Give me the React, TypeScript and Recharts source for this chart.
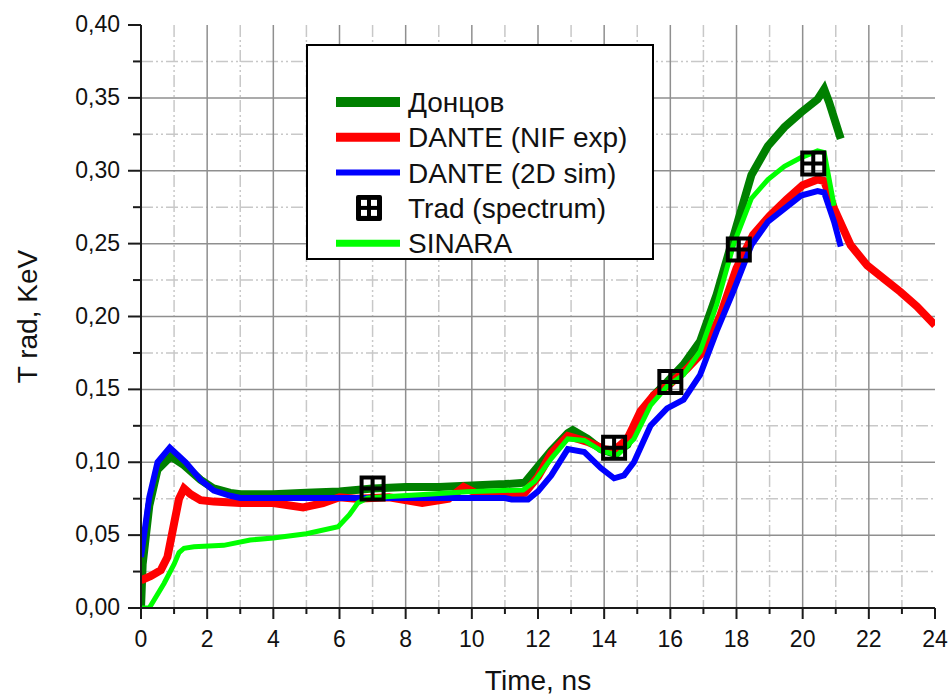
import React from 'react';
import {
  ComposedChart,
  Line,
  XAxis,
  YAxis,
  CartesianGrid,
  Legend,
  Label
} from 'recharts';

// time axis (ns) and temperature axis (keV) ticks
const xTicks = [0, 1, 2, 3, 4, 5, 6, 7, 8, 9, 10, 11, 12, 13, 14, 15, 16, 17, 18, 19, 20, 21, 22, 23, 24];
const yTicks = [0, 0.025, 0.05, 0.075, 0.1, 0.125, 0.15, 0.175, 0.2, 0.225, 0.25, 0.275, 0.3, 0.325, 0.35, 0.375, 0.4];
const majorX = xTicks.filter((t) => t % 2 === 0 && t > 0 && t < 24);
const minorX = xTicks.filter((t) => t % 2 === 1);
const majorY = yTicks.filter((v) => Math.round(v * 1000) % 50 === 0 && v > 0 && v < 0.4);
const minorY = yTicks.filter((v) => Math.round(v * 1000) % 50 !== 0);

// Донцов
const dontsT = [0, 0.05, 0.25, 0.5, 0.9, 1.3, 1.8, 2.2, 2.7, 3, 4, 5, 6, 6.5, 7, 8, 9, 10, 11, 11.6, 12, 12.4, 12.9, 13.05, 13.5, 13.9, 14.3, 14.7, 15.1, 15.5, 15.9, 16.4, 16.9, 17.4, 18, 18.45, 18.95, 19.45, 19.95, 20.45, 20.65, 20.8, 21.15];
const dontsV = [0, 0.03, 0.07, 0.095, 0.104, 0.098, 0.088, 0.082, 0.079, 0.078, 0.078, 0.079, 0.08, 0.081, 0.082, 0.083, 0.083, 0.084, 0.085, 0.086, 0.097, 0.108, 0.12, 0.122, 0.116, 0.109, 0.106, 0.112, 0.13, 0.146, 0.155, 0.167, 0.183, 0.215, 0.262, 0.297, 0.317, 0.33, 0.34, 0.349, 0.356, 0.347, 0.322];

// DANTE (NIF exp)
const nifT = [0, 0.3, 0.6, 0.8, 1.0, 1.15, 1.3, 1.5, 1.8, 2.2, 3, 4, 4.9, 5.5, 6, 6.5, 7.5, 8.5, 9.3, 9.75, 10.2, 11, 11.6, 12, 12.4, 12.9, 13.5, 14, 14.3, 14.7, 15.1, 15.5, 16, 16.5, 17, 17.5, 18, 18.5, 19, 19.5, 20, 20.45, 20.65, 20.95, 21.45, 21.95, 22.45, 22.95, 23.45, 24];
const nifV = [0.019, 0.022, 0.026, 0.035, 0.058, 0.075, 0.082, 0.078, 0.074, 0.073, 0.072, 0.072, 0.069, 0.072, 0.076, 0.075, 0.076, 0.072, 0.075, 0.083, 0.078, 0.078, 0.079, 0.09, 0.106, 0.118, 0.114, 0.109, 0.108, 0.116, 0.135, 0.146, 0.154, 0.164, 0.176, 0.2, 0.233, 0.256, 0.269, 0.28, 0.29, 0.294, 0.293, 0.274, 0.249, 0.235, 0.226, 0.217, 0.207, 0.194];

// DANTE (2D sim)
const simT = [0, 0.25, 0.5, 0.87, 1.35, 1.8, 2.2, 2.7, 3, 5, 7, 9, 11, 11.2, 11.7, 12, 12.4, 12.9, 13.4, 13.9, 14.3, 14.6, 14.9, 15.4, 15.9, 16.4, 16.9, 17.4, 17.9, 18.45, 18.95, 19.45, 19.95, 20.45, 20.65, 20.95, 21.15];
const simV = [0.035, 0.076, 0.1, 0.11, 0.1, 0.088, 0.0805, 0.077, 0.0755, 0.0755, 0.0755, 0.0755, 0.0755, 0.0745, 0.0745, 0.08, 0.091, 0.109, 0.107, 0.096, 0.089, 0.091, 0.1, 0.125, 0.137, 0.143, 0.16, 0.19, 0.217, 0.249, 0.265, 0.274, 0.283, 0.286, 0.285, 0.265, 0.248];

// Trad (spectrum)
const tradT = [7.0, 14.3, 16.0, 18.07, 20.32];
const tradV = [0.082, 0.11, 0.155, 0.246, 0.305];

// SINARA
const sinaraT = [0, 0.25, 0.7, 1.0, 1.15, 1.3, 1.6, 2.5, 3.3, 4.0, 5.0, 5.96, 6.3, 6.55, 6.85, 7.5, 8.3, 9.85, 11.55, 11.9, 12.4, 12.9, 13.4, 13.9, 14.4, 14.9, 15.4, 15.9, 16.4, 16.9, 17.4, 17.92, 18.45, 18.95, 19.45, 19.95, 20.45, 20.65, 20.95];
const sinaraV = [0, 0, 0.017, 0.03, 0.038, 0.041, 0.042, 0.043, 0.0467, 0.048, 0.051, 0.0558, 0.064, 0.072, 0.0755, 0.0765, 0.0775, 0.0798, 0.081, 0.087, 0.1025, 0.116, 0.115, 0.108, 0.105, 0.116, 0.139, 0.152, 0.16, 0.176, 0.208, 0.25, 0.281, 0.294, 0.303, 0.309, 0.3136, 0.3125, 0.276];

const toRows = (ts: number[], vs: number[]) => ts.map((t, i) => ({ t, v: vs[i] }));

const FONT = '"Liberation Sans", Arial, sans-serif';
const TEXT = '#111';
const AXIS = '#1a1a1a';

const isMajorY = (v: number) => Math.round(v * 1000) % 50 === 0;
const fmtY = (v: number) => v.toFixed(2).replace('.', ',');

const BottomTick = (props: any) => {
  const { x, y, payload } = props;
  const major = payload.value % 2 === 0;
  return (
    <g>
      <line x1={x} x2={x} y1={y} y2={y + (major ? 11 : 6)} stroke={AXIS} strokeWidth={2} />
      {major && (
        <text x={x} y={y + 39} textAnchor="middle" fontSize={23} fontFamily={FONT} fill={TEXT}>
          {payload.value}
        </text>
      )}
    </g>
  );
};

const TopTick = (props: any) => {
  const { x, y, payload } = props;
  const major = payload.value % 2 === 0;
  return <line x1={x} x2={x} y1={y} y2={y - (major ? 12 : 6)} stroke={AXIS} strokeWidth={2} />;
};

const LeftTick = (props: any) => {
  const { x, y, payload } = props;
  const major = isMajorY(payload.value);
  return (
    <g>
      <line x1={x} x2={x - (major ? 13 : 8)} y1={y} y2={y} stroke={AXIS} strokeWidth={2} />
      {major && (
        <text x={x - 21} y={y + 7} textAnchor="end" fontSize={23} fontFamily={FONT} fill={TEXT}>
          {fmtY(payload.value)}
        </text>
      )}
    </g>
  );
};

// in the plot the curves show through the cells of the marker
const TradMark = (props: any) => {
  const { cx, cy, index } = props;
  if (cx == null || cy == null) return <g key={index} />;
  return (
    <path
      key={index}
      d={`M${cx - 11} ${cy - 11}h22v22h-22z M${cx} ${cy - 11}v22 M${cx - 11} ${cy}h22`}
      fill="none"
      stroke="#000"
      strokeWidth={4}
    />
  );
};

const TradGlyph = ({ cx, cy }: { cx: number; cy: number }) => (
  <g>
    <rect x={cx - 13} y={cy - 13} width={26} height={26} rx={2} fill="#000" />
    <rect x={cx - 8} y={cy - 8} width={6} height={6} fill="#fff" />
    <rect x={cx + 2} y={cy - 8} width={6} height={6} fill="#fff" />
    <rect x={cx - 8} y={cy + 2} width={6} height={6} fill="#fff" />
    <rect x={cx + 2} y={cy + 2} width={6} height={6} fill="#fff" />
  </g>
);

const legendItems = [
  { name: 'Донцов', color: '#008000', width: 10 },
  { name: 'DANTE (NIF exp)', color: '#ff0000', width: 9 },
  { name: 'DANTE (2D sim)', color: '#0000ff', width: 6 },
  { name: 'Trad (spectrum)', color: '#000', width: 0 },
  { name: 'SINARA', color: '#00ff00', width: 7 }
];

const LegendBox = () => (
  <svg width={348} height={216} style={{ display: 'block' }}>
    <rect x={1} y={1} width={346} height={214} fill="#fff" stroke="#000" strokeWidth={2} />
    {legendItems.map((it, i) => {
      const cy = 58 + i * 35.3;
      return (
        <g key={it.name}>
          {it.width > 0 ? (
            <line x1={30} x2={94} y1={cy} y2={cy} stroke={it.color} strokeWidth={it.width} />
          ) : (
            <TradGlyph cx={63} cy={cy} />
          )}
          <text x={102} y={cy + 10} fontSize={28} fontFamily={FONT} fill={TEXT}>
            {it.name}
          </text>
        </g>
      );
    })}
  </svg>
);

const App: React.FC = () => {
  return (
    <div style={{ position: 'absolute', left: 0, top: 0, width: 949, height: 696, background: '#fff' }}>
      <ComposedChart width={949} height={696} margin={{ top: 25, right: 14, bottom: 0, left: 0 }}>
        <CartesianGrid
          verticalValues={minorX}
          horizontalValues={minorY}
          stroke="#c8c8c8"
          strokeWidth={1.5}
          strokeDasharray="12 3 2 3 2 3"
        />
        <CartesianGrid
          verticalValues={majorX}
          horizontalValues={majorY}
          stroke="#8f8f8f"
          strokeWidth={1.5}
        />
        <XAxis
          dataKey="t"
          type="number"
          domain={[0, 24]}
          ticks={xTicks}
          interval={0}
          height={88}
          tickSize={0}
          tickMargin={0}
          tick={<BottomTick />}
          axisLine={{ stroke: AXIS, strokeWidth: 2 }}
          allowDataOverflow
        >
          <Label
            value="Time, ns"
            position="insideBottom"
            offset={6}
            style={{ fontSize: 28, fontFamily: FONT, fill: TEXT }}
          />
        </XAxis>
        <XAxis
          xAxisId="top"
          orientation="top"
          dataKey="t"
          type="number"
          domain={[0, 24]}
          ticks={xTicks}
          interval={0}
          height={0}
          tickSize={0}
          tickMargin={0}
          tick={<TopTick />}
          axisLine={{ stroke: AXIS, strokeWidth: 2 }}
        />
        <YAxis
          type="number"
          domain={[0, 0.4]}
          ticks={yTicks}
          interval={0}
          width={141}
          tickSize={0}
          tickMargin={0}
          tick={<LeftTick />}
          axisLine={{ stroke: AXIS, strokeWidth: 2 }}
          allowDataOverflow
        >
          <Label
            value="T rad, KeV"
            position="insideLeft"
            angle={-90}
            offset={27}
            style={{ fontSize: 28, fontFamily: FONT, fill: TEXT, textAnchor: 'middle' }}
          />
        </YAxis>
        <YAxis
          yAxisId="right"
          orientation="right"
          type="number"
          domain={[0, 0.4]}
          width={0}
          tick={false}
          tickLine={false}
          axisLine={{ stroke: AXIS, strokeWidth: 2 }}
        />
        <Legend
          layout="vertical"
          align="center"
          verticalAlign="middle"
          content={() => <LegendBox />}
          wrapperStyle={{ top: 44, left: 306, width: 348, height: 216 }}
        />
        <Line
          data={toRows(tradT, tradV)}
          dataKey="v"
          name="Trad (spectrum)"
          stroke="none"
          dot={TradMark}
          activeDot={false}
          isAnimationActive={false}
        />
        <Line
          data={toRows(dontsT, dontsV)}
          dataKey="v"
          name="Донцов"
          type="linear"
          stroke="#008000"
          strokeWidth={8}
          dot={false}
          activeDot={false}
          isAnimationActive={false}
        />
        <Line
          data={toRows(nifT, nifV)}
          dataKey="v"
          name="DANTE (NIF exp)"
          type="linear"
          stroke="#ff0000"
          strokeWidth={8}
          dot={false}
          activeDot={false}
          isAnimationActive={false}
        />
        <Line
          data={toRows(simT, simV)}
          dataKey="v"
          name="DANTE (2D sim)"
          type="linear"
          stroke="#0000ff"
          strokeWidth={6}
          dot={false}
          activeDot={false}
          isAnimationActive={false}
        />
        <Line
          data={toRows(sinaraT, sinaraV)}
          dataKey="v"
          name="SINARA"
          type="linear"
          stroke="#00ff00"
          strokeWidth={5}
          dot={false}
          activeDot={false}
          isAnimationActive={false}
        />
      </ComposedChart>
    </div>
  );
};

export default App;
